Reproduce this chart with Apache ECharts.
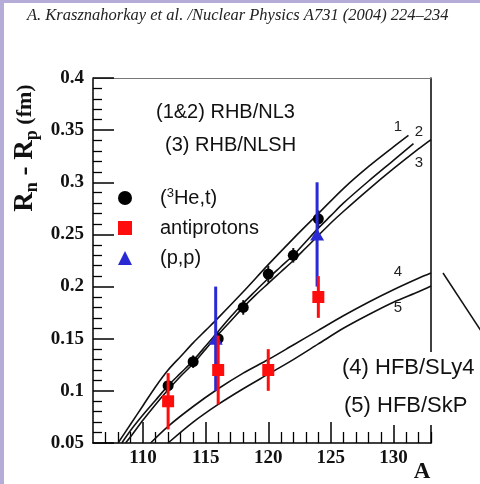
<!DOCTYPE html>
<html>
<head>
<meta charset="utf-8">
<script src="https://cdn.jsdelivr.net/npm/echarts@6/dist/echarts.min.js"></script>
<style>
  html, body { margin: 0; padding: 0; background: #fff; }
  #chart { width: 480px; height: 484px; }
</style>
</head>
<body>
<div id="chart"></div>
<script>
// Neutron-skin thickness R_n - R_p versus mass number A for the Sn isotopes.

// Axis ticks
const xMajorTicks = [110, 115, 120, 125, 130];
const xMinorTicks = [107, 108, 109, 111, 112, 113, 114, 116, 117, 118, 119, 121, 122, 123, 124, 126, 127, 128, 129, 131, 132, 133];
const yTicks = [0.05, 0.1, 0.15, 0.2, 0.25, 0.3, 0.35, 0.4];

// Theory curves (1) and (2): RHB/NL3, (3): RHB/NLSH
const curve1A = [108.0, 109, 110, 111, 112, 113, 114, 115, 116, 118, 120, 122, 124, 126, 128, 130, 131.2];
const curve1R = [0.05, 0.068, 0.086, 0.104, 0.12, 0.133, 0.146, 0.158, 0.17, 0.195, 0.221, 0.246, 0.27, 0.294, 0.315, 0.334, 0.345];
const curve2A = [108.3, 109, 110, 111, 112, 113, 114, 115, 116, 117, 118, 119, 120, 121, 122, 123, 124, 125, 126, 128, 130, 131.6];
const curve2R = [0.05, 0.062, 0.077, 0.091, 0.105, 0.117, 0.129, 0.143, 0.157, 0.171, 0.184, 0.196, 0.208, 0.219, 0.23, 0.243, 0.256, 0.268, 0.28, 0.301, 0.321, 0.337];
const curve3A = [108.6, 109, 110, 111, 112, 113, 114, 115, 116, 117, 118, 119, 120, 121, 122, 123, 124, 125, 126, 128, 130, 132, 133];
const curve3R = [0.05, 0.056, 0.072, 0.087, 0.101, 0.114, 0.126, 0.14, 0.154, 0.167, 0.18, 0.192, 0.203, 0.214, 0.225, 0.237, 0.249, 0.261, 0.272, 0.293, 0.313, 0.332, 0.341];
// (4) HFB/SLy4, (5) HFB/SkP
const curve4A = [110.6, 112, 114, 116, 118, 120, 122, 124, 126, 128, 130, 132, 133];
const curve4R = [0.05, 0.066, 0.085, 0.102, 0.117, 0.13, 0.144, 0.158, 0.172, 0.185, 0.197, 0.208, 0.213];
const curve5A = [112, 114, 116, 118, 120, 122, 124, 126, 128, 130, 132, 133];
const curve5R = [0.05, 0.07, 0.087, 0.102, 0.116, 0.13, 0.145, 0.16, 0.173, 0.185, 0.195, 0.2005];

// Measurements
const hetA = [112, 114, 116, 118, 120, 122, 124];
const hetR = [0.105, 0.128, 0.15, 0.18, 0.212, 0.23, 0.265];
const hetErr = [0.006, 0.006, 0.006, 0.007, 0.008, 0.007, 0.008];

const pbarA = [112, 116, 120, 124];
const pbarR = [0.09, 0.12, 0.12, 0.19];
const pbarErr = [0.027, 0.033, 0.02, 0.02];

const ppA = [115.8, 123.9];
const ppR = [0.15, 0.25];
const ppErr = [0.05, 0.05];

const zip = (a, b) => a.map((v, i) => [v, b[i]]);
const bars = (a, v, e) => a.map((x, i) => [x, v[i] - e[i], v[i] + e[i]]);

const SERIF = '"Liberation Serif", "DejaVu Serif", serif';
const SANS = '"Liberation Sans", Arial, sans-serif';

const BLACK = '#000000';
const RED = '#ff0d0d';
const BLUE = '#2a2ad4';

function curve(name, a, r) {
  return {
    name: name, type: 'line', data: zip(a, r), smooth: 0.3, showSymbol: false,
    symbol: 'none', lineStyle: { color: '#111', width: 1.6 }, z: 2, silent: true
  };
}

function errorBars(name, data, color, width, z) {
  return {
    name: name, type: 'custom', data: data, z: z, silent: true,
    encode: { x: 0, y: [1, 2] },
    renderItem: function (params, api) {
      const lo = api.coord([api.value(0), api.value(1)]);
      const hi = api.coord([api.value(0), api.value(2)]);
      return {
        type: 'line',
        shape: { x1: lo[0], y1: lo[1], x2: hi[0], y2: hi[1] },
        style: { stroke: color, lineWidth: width }
      };
    }
  };
}

function points(name, a, r, symbol, size, color, z) {
  return {
    name: name, type: 'scatter', data: zip(a, r), symbol: symbol, symbolSize: size,
    itemStyle: { color: color, opacity: 1 }, emphasis: { disabled: true }, z: z
  };
}

const chart = echarts.init(document.getElementById('chart'), null, { renderer: 'canvas' });

chart.setOption({
  animation: false,
  backgroundColor: '#ffffff',
  grid: { left: 93, right: 49, top: 78, bottom: 41, containLabel: false, outerBoundsMode: 'none' },
  xAxis: [
    {
      type: 'value', position: 'bottom', min: 106, max: 133, interval: 1,
      axisLine: { show: true, onZero: false, lineStyle: { color: '#000', width: 1.5 } },
      axisTick: { show: true, inside: true, length: 21, customValues: xMajorTicks, lineStyle: { color: '#000', width: 1.5 } },
      axisLabel: { customValues: xMajorTicks, margin: 6, fontFamily: SERIF, fontWeight: 'bold', fontSize: 19, color: '#111' },
      splitLine: { show: false }
    },
    {
      type: 'value', position: 'bottom', min: 106, max: 133, interval: 1,
      axisLine: { show: false, onZero: false },
      axisTick: { show: true, inside: true, length: 11, customValues: xMinorTicks, lineStyle: { color: '#000', width: 1.3 } },
      axisLabel: { show: false },
      splitLine: { show: false }
    },
    {
      type: 'value', position: 'top', min: 106, max: 133,
      axisLine: { show: true, onZero: false, lineStyle: { color: '#777', width: 1.2 } },
      axisTick: { show: false }, axisLabel: { show: false }, splitLine: { show: false }
    }
  ],
  yAxis: [
    {
      type: 'value', position: 'left', min: 0.05, max: 0.4, interval: 0.05,
      axisLine: { show: true, onZero: false, lineStyle: { color: '#000', width: 1.5 } },
      axisTick: { show: true, inside: true, length: 21, lineStyle: { color: '#000', width: 1.5 } },
      minorTick: { show: true, splitNumber: 5, length: 9, lineStyle: { color: '#000', width: 1.3 } },
      axisLabel: {
        margin: 9, fontFamily: SERIF, fontWeight: 'bold', fontSize: 19, color: '#111',
        formatter: function (v) {
          const t = yTicks.find(function (k) { return Math.abs(k - v) < 1e-9; });
          return t === undefined ? '' : String(t);
        }
      },
      splitLine: { show: false }
    },
    {
      type: 'value', position: 'right', min: 0.05, max: 0.4,
      axisLine: { show: true, onZero: false, lineStyle: { color: '#000', width: 1.5 } },
      axisTick: { show: false }, axisLabel: { show: false }, splitLine: { show: false }
    }
  ],
  legend: {
    orient: 'vertical', left: 113, top: 182, itemWidth: 14, itemHeight: 14, itemGap: 10,
    selectedMode: false,
    data: ['(3He,t)', 'antiprotons', '(p,p)'],
    formatter: function (name) {
      if (name === '(3He,t)') return '{sp| }{t|(}{sup|3}{t|He,t)}';
      return '{sp| }{t|' + name + '}';
    },
    textStyle: {
      color: '#111',
      rich: {
        sp: { width: 23 },
        t: { fontFamily: SANS, fontSize: 20, lineHeight: 22, color: '#111' },
        sup: { fontFamily: SANS, fontSize: 13, lineHeight: 13, verticalAlign: 'top', color: '#111' }
      }
    }
  },
  series: [
    curve('NL3 1', curve1A, curve1R),
    curve('NL3 2', curve2A, curve2R),
    curve('NLSH 3', curve3A, curve3R),
    curve('SLy4 4', curve4A, curve4R),
    curve('SkP 5', curve5A, curve5R),
    errorBars('(3He,t) err', bars(hetA, hetR, hetErr), '#111', 2, 3),
    points('(3He,t)', hetA, hetR, 'circle', 11, BLACK, 4),
    errorBars('(p,p) err', bars(ppA, ppR, ppErr), BLUE, 3, 5),
    points('(p,p)', ppA, ppR, 'triangle', [14, 12], BLUE, 6),
    errorBars('antiprotons err', bars(pbarA, pbarR, pbarErr), RED, 3, 7),
    points('antiprotons', pbarA, pbarR, 'rect', 12, RED, 8)
  ],
  graphic: [
    { type: 'rect', shape: { x: 0, y: 0, width: 4, height: 484 }, style: { fill: '#b6acd8' }, z: 1 },
    { type: 'rect', shape: { x: 0, y: 0, width: 480, height: 3 }, style: { fill: '#b6acd8' }, z: 1 },
    {
      type: 'text', x: 27, y: 16, z: 10,
      style: { text: 'A. Krasznahorkay et al. /Nuclear Physics A731 (2004) 224\u2013234', fontFamily: SERIF, fontStyle: 'italic', fontSize: 16.5, fill: '#222', align: 'left', verticalAlign: 'middle' }
    },
    {
      type: 'text', x: 25, y: 148, rotation: Math.PI / 2, z: 10,
      style: {
        text: '{r|R}{s|n}{r| - R}{s|p}{f| (fm)}', align: 'center', verticalAlign: 'middle',
        rich: {
          r: { fontFamily: SERIF, fontWeight: 'bold', fontSize: 27, lineHeight: 32, fill: '#111' },
          s: { fontFamily: SERIF, fontWeight: 'bold', fontSize: 18, lineHeight: 18, verticalAlign: 'bottom', fill: '#111' },
          f: { fontFamily: SERIF, fontWeight: 'bold', fontSize: 22, lineHeight: 32, fill: '#111' }
        }
      }
    },
    { type: 'text', x: 156, y: 112, z: 10, style: { text: '(1&2) RHB/NL3', fontFamily: SANS, fontSize: 20, fill: '#111', align: 'left', verticalAlign: 'middle' } },
    { type: 'text', x: 165, y: 145, z: 10, style: { text: '(3) RHB/NLSH', fontFamily: SANS, fontSize: 20, fill: '#111', align: 'left', verticalAlign: 'middle' } },
    { type: 'text', x: 398, y: 127, z: 10, style: { text: '1', fontFamily: SANS, fontSize: 15, fill: '#222', align: 'center', verticalAlign: 'middle' } },
    { type: 'text', x: 419, y: 132, z: 10, style: { text: '2', fontFamily: SANS, fontSize: 15, fill: '#222', align: 'center', verticalAlign: 'middle' } },
    { type: 'text', x: 419, y: 163, z: 10, style: { text: '3', fontFamily: SANS, fontSize: 15, fill: '#222', align: 'center', verticalAlign: 'middle' } },
    { type: 'text', x: 398, y: 272, z: 10, style: { text: '4', fontFamily: SANS, fontSize: 15, fill: '#222', align: 'center', verticalAlign: 'middle' } },
    { type: 'text', x: 398, y: 308, z: 10, style: { text: '5', fontFamily: SANS, fontSize: 15, fill: '#222', align: 'center', verticalAlign: 'middle' } },
    { type: 'line', shape: { x1: 443, y1: 273, x2: 481, y2: 331 }, style: { stroke: '#111', lineWidth: 1.5 }, z: 10 },
    { type: 'rect', shape: { x: 337, y: 352, width: 143, height: 73 }, style: { fill: '#ffffff' }, z: 50 },
    { type: 'text', x: 342, y: 368, z: 51, style: { text: '(4) HFB/SLy4', fontFamily: SANS, fontSize: 22, fill: '#111', align: 'left', verticalAlign: 'middle' } },
    { type: 'text', x: 344, y: 406, z: 51, style: { text: '(5) HFB/SkP', fontFamily: SANS, fontSize: 22, fill: '#111', align: 'left', verticalAlign: 'middle' } },
    { type: 'text', x: 422, y: 472, z: 10, style: { text: 'A', fontFamily: SERIF, fontWeight: 'bold', fontSize: 23, fill: '#111', align: 'center', verticalAlign: 'middle' } }
  ]
});
</script>
</body>
</html>
